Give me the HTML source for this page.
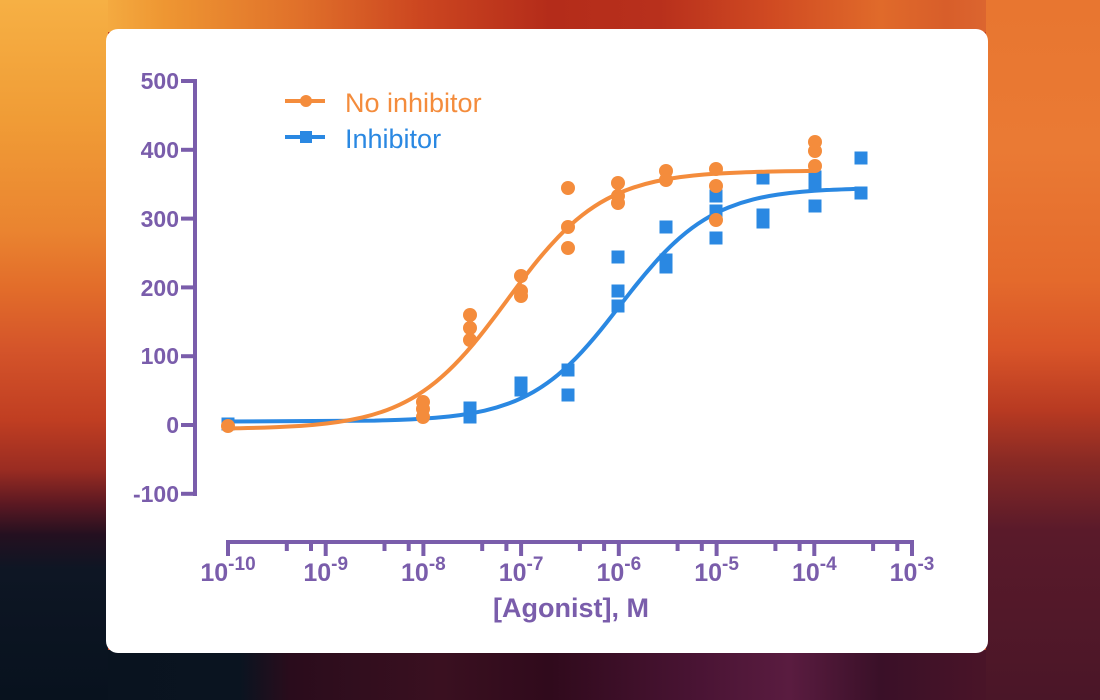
<!DOCTYPE html>
<html><head><meta charset="utf-8"><style>
html,body{margin:0;padding:0;width:1100px;height:700px;overflow:hidden;background:#c0401c}
svg{display:block}
text{font-family:"Liberation Sans",Arial,sans-serif}
</style></head><body>
<svg width="1100" height="700" viewBox="0 0 1100 700" xmlns="http://www.w3.org/2000/svg">
<defs>
<linearGradient id="gt" gradientUnits="userSpaceOnUse" x1="0" y1="0" x2="1100" y2="0">
<stop offset="0" stop-color="#f6b044"/><stop offset="0.098" stop-color="#f4aa40"/><stop offset="0.15" stop-color="#ee9632"/><stop offset="0.273" stop-color="#e0702a"/><stop offset="0.382" stop-color="#cc4620"/><stop offset="0.5" stop-color="#b42c1a"/><stop offset="0.6" stop-color="#b8301c"/><stop offset="0.7" stop-color="#d04a22"/><stop offset="0.8" stop-color="#e06a2a"/><stop offset="0.86" stop-color="#d85e2a"/><stop offset="0.9" stop-color="#dc6630"/><stop offset="1" stop-color="#e87630"/>
</linearGradient>
<linearGradient id="gl" gradientUnits="userSpaceOnUse" x1="0" y1="0" x2="0" y2="700">
<stop offset="0" stop-color="#f6b044"/><stop offset="0.171" stop-color="#f09c36"/><stop offset="0.329" stop-color="#ea8430"/><stop offset="0.414" stop-color="#e26c2a"/><stop offset="0.5" stop-color="#d4542a"/><stop offset="0.6" stop-color="#c03e22"/><stop offset="0.671" stop-color="#9a2c22"/><stop offset="0.721" stop-color="#5a1822"/><stop offset="0.764" stop-color="#241020"/><stop offset="0.814" stop-color="#0e1624"/><stop offset="1" stop-color="#08121e"/>
</linearGradient>
<linearGradient id="gr" gradientUnits="userSpaceOnUse" x1="0" y1="0" x2="0" y2="700">
<stop offset="0" stop-color="#e87630"/><stop offset="0.214" stop-color="#ea7a34"/><stop offset="0.4" stop-color="#e46a2c"/><stop offset="0.5" stop-color="#d85428"/><stop offset="0.586" stop-color="#b83a22"/><stop offset="0.657" stop-color="#8a2a24"/><stop offset="0.757" stop-color="#5a1a2a"/><stop offset="1" stop-color="#4a1628"/>
</linearGradient>
<linearGradient id="gb" gradientUnits="userSpaceOnUse" x1="0" y1="0" x2="1100" y2="0">
<stop offset="0" stop-color="#08121e"/><stop offset="0.218" stop-color="#0a1420"/><stop offset="0.264" stop-color="#2a0c1c"/><stop offset="0.4" stop-color="#3a1020"/><stop offset="0.5" stop-color="#300a1c"/><stop offset="0.636" stop-color="#4a1434"/><stop offset="0.718" stop-color="#5a1c40"/><stop offset="0.8" stop-color="#3a1028"/><stop offset="0.9" stop-color="#4a1428"/><stop offset="1" stop-color="#4a1628"/>
</linearGradient>
</defs>
<rect x="0" y="0" width="1100" height="700" fill="#c0401c"/>
<rect x="0" y="0" width="1100" height="32" fill="url(#gt)"/>
<rect x="0" y="650" width="1100" height="50" fill="url(#gb)"/>
<rect x="0" y="0" width="108" height="700" fill="url(#gl)"/>
<rect x="986" y="0" width="114" height="700" fill="url(#gr)"/>
<rect x="106" y="29" width="882" height="624" rx="12" ry="12" fill="#ffffff"/>

<!-- Y axis -->
<g stroke="#7a5dab" stroke-width="4" fill="none">
<line x1="195" y1="79" x2="195" y2="496"/>
<line x1="181" y1="81" x2="197" y2="81"/>
<line x1="181" y1="149.8" x2="197" y2="149.8"/>
<line x1="181" y1="218.6" x2="197" y2="218.6"/>
<line x1="181" y1="287.4" x2="197" y2="287.4"/>
<line x1="181" y1="356.2" x2="197" y2="356.2"/>
<line x1="181" y1="425" x2="197" y2="425"/>
<line x1="181" y1="493.8" x2="197" y2="493.8"/>
</g>
<g fill="#7a5dab" font-size="23" font-weight="bold" text-anchor="end">
<text x="179" y="89">500</text>
<text x="179" y="158">400</text>
<text x="179" y="227">300</text>
<text x="179" y="296">200</text>
<text x="179" y="364">100</text>
<text x="179" y="433">0</text>
<text x="179" y="502">-100</text>
</g>

<!-- X axis -->
<g stroke="#7a5dab" stroke-width="4" fill="none">
<line x1="226" y1="542" x2="914" y2="542"/>
<line x1="228" y1="540" x2="228" y2="556"/>
<line x1="325.7" y1="540" x2="325.7" y2="556"/>
<line x1="423.4" y1="540" x2="423.4" y2="556"/>
<line x1="521.1" y1="540" x2="521.1" y2="556"/>
<line x1="618.8" y1="540" x2="618.8" y2="556"/>
<line x1="716.6" y1="540" x2="716.6" y2="556"/>
<line x1="814.3" y1="540" x2="814.3" y2="556"/>
<line x1="912" y1="540" x2="912" y2="556"/>
<line x1="286.8" y1="540" x2="286.8" y2="551"/><line x1="311" y1="540" x2="311" y2="551"/>
<line x1="384.5" y1="540" x2="384.5" y2="551"/><line x1="408.7" y1="540" x2="408.7" y2="551"/>
<line x1="482.2" y1="540" x2="482.2" y2="551"/><line x1="506.4" y1="540" x2="506.4" y2="551"/>
<line x1="579.9" y1="540" x2="579.9" y2="551"/><line x1="604.1" y1="540" x2="604.1" y2="551"/>
<line x1="677.6" y1="540" x2="677.6" y2="551"/><line x1="701.8" y1="540" x2="701.8" y2="551"/>
<line x1="775.4" y1="540" x2="775.4" y2="551"/><line x1="799.6" y1="540" x2="799.6" y2="551"/>
<line x1="873.1" y1="540" x2="873.1" y2="551"/><line x1="897.3" y1="540" x2="897.3" y2="551"/>
</g>
<g fill="#7a5dab" font-size="25" font-weight="bold" text-anchor="middle">
<text x="228" y="581">10<tspan font-size="19" dy="-11">-10</tspan></text>
<text x="325.7" y="581">10<tspan font-size="19" dy="-11">-9</tspan></text>
<text x="423.4" y="581">10<tspan font-size="19" dy="-11">-8</tspan></text>
<text x="521.1" y="581">10<tspan font-size="19" dy="-11">-7</tspan></text>
<text x="618.8" y="581">10<tspan font-size="19" dy="-11">-6</tspan></text>
<text x="716.6" y="581">10<tspan font-size="19" dy="-11">-5</tspan></text>
<text x="814.3" y="581">10<tspan font-size="19" dy="-11">-4</tspan></text>
<text x="912" y="581">10<tspan font-size="19" dy="-11">-3</tspan></text>
</g>
<text x="571" y="617" fill="#7a5dab" font-size="27" font-weight="bold" text-anchor="middle">[Agonist], M</text>

<!-- Blue curve -->
<path fill="none" stroke="#2a88e2" stroke-width="4" stroke-linecap="round" d="M228,421.5 L374.6,420.6 L386.8,420.25 Q399,419.9 411.2,419.35 Q423.4,418.8 435.6,417.8 Q447.8,416.8 460.05,415.1 Q472.3,413.4 484.5,410.65 Q496.7,407.9 508.9,403.4 Q521.1,398.9 533.35,391.95 Q545.6,385 557.8,374.9 Q570,364.8 582.2,351.5 Q594.4,338.2 606.6,322.65 Q618.8,307.1 631,291.45 Q643.2,275.8 655.45,262.05 Q667.7,248.3 679.9,237.7 Q692.1,227.1 704.35,219.65 Q716.6,212.2 728.8,207.35 Q741,202.5 753.2,199.45 Q765.4,196.4 777.65,194.6 Q789.9,192.8 802.1,191.75 Q814.3,190.7 826.5,190.05 Q838.7,189.4 861.2,188.7"/>
<!-- Blue squares -->
<g fill="#2a88e2">
<rect x="221.5" y="417.5" width="13" height="13"/>
<rect x="463.5" y="401.5" width="13" height="13"/><rect x="463.5" y="410.5" width="13" height="13"/>
<rect x="514.5" y="376.5" width="13" height="13"/><rect x="514.5" y="383.5" width="13" height="13"/>
<rect x="561.5" y="363.5" width="13" height="13"/><rect x="561.5" y="388.5" width="13" height="13"/>
<rect x="611.5" y="250.5" width="13" height="13"/><rect x="611.5" y="284.5" width="13" height="13"/><rect x="611.5" y="299.5" width="13" height="13"/>
<rect x="659.5" y="220.5" width="13" height="13"/><rect x="659.5" y="253.5" width="13" height="13"/><rect x="659.5" y="260.5" width="13" height="13"/>
<rect x="709.5" y="189.5" width="13" height="13"/><rect x="709.5" y="204.5" width="13" height="13"/><rect x="709.5" y="231.5" width="13" height="13"/>
<rect x="756.5" y="171.5" width="13" height="13"/><rect x="756.5" y="208.5" width="13" height="13"/><rect x="756.5" y="215.5" width="13" height="13"/>
<rect x="808.5" y="170.5" width="13" height="13"/><rect x="808.5" y="177.5" width="13" height="13"/><rect x="808.5" y="199.5" width="13" height="13"/>
<rect x="854.5" y="151.5" width="13" height="13"/><rect x="854.5" y="186.5" width="13" height="13"/>
</g>

<!-- Orange curve -->
<path fill="none" stroke="#f48c3c" stroke-width="4" stroke-linecap="round" d="M228,428.4 L240.2,428.2 Q252.4,428 264.65,427.6 Q276.9,427.2 289.1,426.55 Q301.3,425.9 313.5,424.85 Q325.7,423.8 337.9,422 Q350.1,420.2 362.35,417.4 Q374.6,414.6 386.8,410.1 Q399,405.6 411.2,398.75 Q423.4,391.9 435.6,382.05 Q447.8,372.2 460.05,359.05 Q472.3,345.9 484.5,330.15 Q496.7,314.4 508.9,297.75 Q521.1,281.1 533.35,265.65 Q545.6,250.2 557.8,237.45 Q570,224.7 582.2,215.2 Q594.4,205.7 606.6,199.2 Q618.8,192.7 631,188.45 Q643.2,184.2 655.45,181.5 Q667.7,178.8 679.9,177.15 Q692.1,175.5 704.35,174.5 Q716.6,173.5 741,172.5 Q765.4,171.5 814.3,170.9"/>
<!-- Orange circles -->
<g fill="#f48c3c">
<circle cx="228" cy="426" r="7"/>
<circle cx="423" cy="402" r="7"/><circle cx="423" cy="409" r="7"/><circle cx="423" cy="417" r="7"/>
<circle cx="470" cy="315" r="7"/><circle cx="470" cy="328" r="7"/><circle cx="470" cy="340" r="7"/>
<circle cx="521" cy="276" r="7"/><circle cx="521" cy="291" r="7"/><circle cx="521" cy="296" r="7"/>
<circle cx="568" cy="188" r="7"/><circle cx="568" cy="227" r="7"/><circle cx="568" cy="248" r="7"/>
<circle cx="618" cy="183" r="7"/><circle cx="618" cy="196" r="7"/><circle cx="618" cy="203" r="7"/>
<circle cx="666" cy="171" r="7"/><circle cx="666" cy="180" r="7"/>
<circle cx="716" cy="169" r="7"/><circle cx="716" cy="186" r="7"/><circle cx="716" cy="220" r="7"/>
<circle cx="815" cy="142" r="7"/><circle cx="815" cy="151" r="7"/><circle cx="815" cy="166" r="7"/>
</g>

<!-- Legend -->
<line x1="285" y1="101" x2="325" y2="101" stroke="#f48c3c" stroke-width="4"/>
<circle cx="306" cy="101" r="6" fill="#f48c3c"/>
<line x1="285" y1="137" x2="325" y2="137" stroke="#2a88e2" stroke-width="4"/>
<rect x="300" y="131" width="12" height="12" fill="#2a88e2"/>
<text x="345" y="112" fill="#f48c3c" font-size="27">No inhibitor</text>
<text x="345" y="148" fill="#2a88e2" font-size="27">Inhibitor</text>
</svg>
</body></html>
